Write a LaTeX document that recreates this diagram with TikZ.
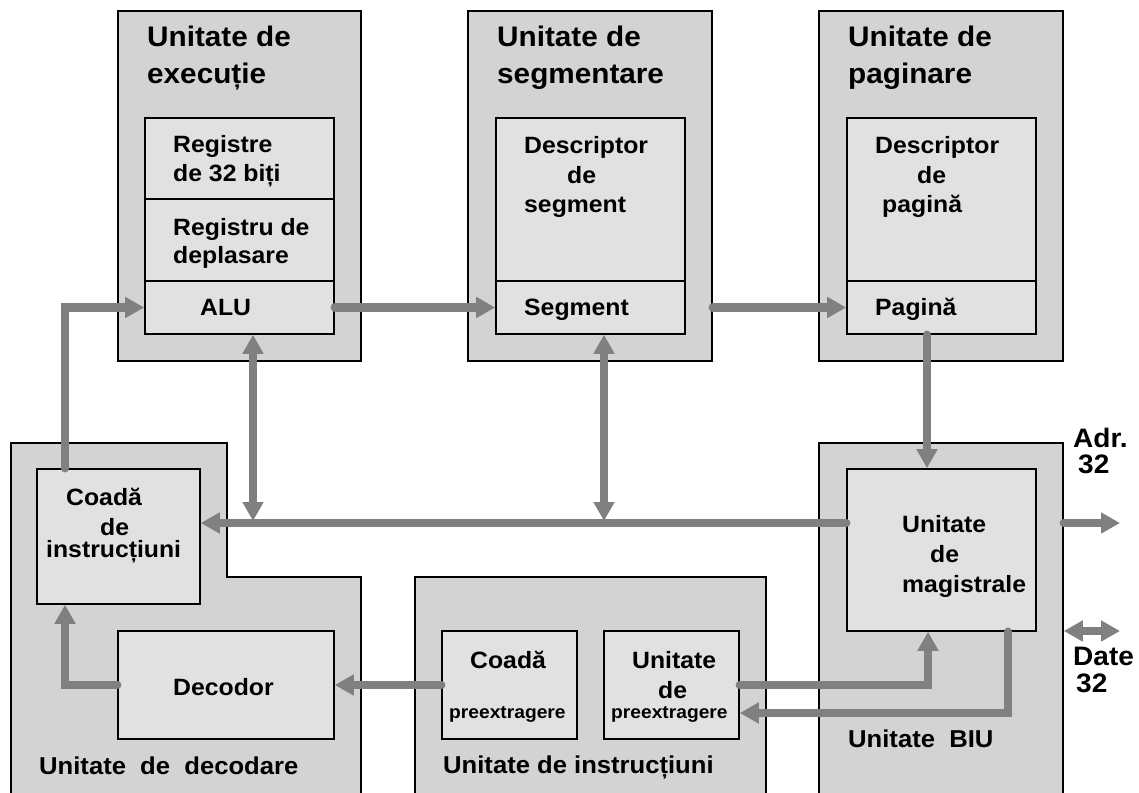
\documentclass[tikz,border=0pt]{standalone}
\usepackage{fontspec}
\setmainfont{Liberation Sans}[FakeStretch=1.05]
\usetikzlibrary{arrows.meta,fit}
\definecolor{outerfill}{RGB}{211,211,211}
\definecolor{innerfill}{RGB}{225,225,225}
\definecolor{busgray}{RGB}{128,128,128}
\begin{document}
\begin{tikzpicture}[x=1pt,y=-1pt,
  unitbox/.style={draw=black, line width=1.6pt, fill=outerfill, inner sep=0pt},
  cell/.style={draw=black, line width=1.6pt, fill=innerfill, inner sep=0pt},
  ttl/.style={anchor=base west, inner sep=0pt, font=\fontsize{28.3}{32}\selectfont\bfseries},
  txt/.style={anchor=base west, inner sep=0pt, font=\fontsize{23.6}{28}\selectfont\bfseries},
  sml/.style={anchor=base west, inner sep=0pt, font=\fontsize{18.3}{22}\selectfont\bfseries},
  lbl/.style={anchor=base west, inner sep=0pt, font=\fontsize{24.4}{28}\selectfont\bfseries},
  io/.style={anchor=base west, inner sep=0pt, font=\fontsize{26.7}{30}\selectfont\bfseries},
  bus/.style={draw=busgray, line width=8.5pt, line cap=round},
  arr/.style={bus, -{Triangle[length=19pt,width=20pt]}},
  darr/.style={bus, {Triangle[length=19pt,width=20pt]}-{Triangle[length=19pt,width=20pt]}}]
\useasboundingbox (0,0) rectangle (1139,792);
\clip (0,0) rectangle (1139,792);

% ---- outer units ----
\node[unitbox, fit={(118,11) (361,361)}] (exu) {};
\node[unitbox, fit={(468,11) (712,361)}] (segu) {};
\node[unitbox, fit={(819,11) (1063,361)}] (pagu) {};
\filldraw[line width=1.6pt, fill=outerfill]
  (11,800) -- (11,443) -- (227,443) -- (227,577) -- (361,577) -- (361,800) -- cycle;
\node[unitbox, fit={(415,577) (766,800)}] (insu) {};
\node[unitbox, fit={(819,443) (1063,800)}] (biu) {};

% ---- inner cells ----
\node[cell, fit={(145,118) (334,199)}] (reg) {};
\node[cell, fit={(145,199) (334,281)}] (rdep) {};
\node[cell, fit={(145,281) (334,334)}] (alu) {};
\node[cell, fit={(496,118) (685,281)}] (sdesc) {};
\node[cell, fit={(496,281) (685,334)}] (seg) {};
\node[cell, fit={(847,118) (1036,281)}] (pdesc) {};
\node[cell, fit={(847,281) (1036,334)}] (pag) {};
\node[cell, fit={(37,469) (200,604)}] (ciq) {};
\node[cell, fit={(118,631) (334,739)}] (dec) {};
\node[cell, fit={(442,631) (577,739)}] (cpx) {};
\node[cell, fit={(604,631) (739,739)}] (upx) {};
\node[cell, fit={(847,469) (1036,631)}] (mag) {};

% ---- texts ----
\node[ttl] (t1) at (147,47) {Unitate de};
\node[ttl] (t2) at (147,83) {execuție};
\node[ttl] (t3) at (497,47) {Unitate de};
\node[ttl] (t4) at (497,83) {segmentare};
\node[ttl] (t5) at (848,47) {Unitate de};
\node[ttl] (t6) at (848,83) {paginare};

\node[txt] (r1) at (173,152) {Registre};
\node[txt] (r2) at (173,181) {de 32 biți};
\node[txt] (r3) at (173,235) {Registru de};
\node[txt] (r4) at (173,263) {deplasare};
\node[txt] (r5) at (200,315) {ALU};

\node[txt] (s1) at (524,153) {Descriptor};
\node[txt] (s2) at (567,183) {de};
\node[txt] (s3) at (524,212) {segment};
\node[txt] (s4) at (524,315) {Segment};

\node[txt] (p1) at (875,153) {Descriptor};
\node[txt] (p2) at (917,183) {de};
\node[txt] (p3) at (882,212) {pagină};
\node[txt] (p4) at (875,315) {Pagină};

\node[txt] (c1) at (66,505) {Coadă};
\node[txt] (c2) at (100,535) {de};
\node[txt] (c3) at (46,557) {instrucțiuni};
\node[txt] (d1) at (173,695) {Decodor};
\node[lbl] (l1) at (39,774) {Unitate\ \ de\ \ decodare};

\node[txt] (q1) at (470,668) {Coadă};
\node[sml] (q2) at (449,718) {preextragere};
\node[txt] (u1) at (632,668) {Unitate};
\node[txt] (u2) at (658,698) {de};
\node[sml] (u3) at (611,718) {preextragere};
\node[lbl] (l2) at (443,773) {Unitate de instrucțiuni};

\node[txt] (m1) at (902,532) {Unitate};
\node[txt] (m2) at (930,562) {de};
\node[txt] (m3) at (902,592) {magistrale};
\node[lbl] (l3) at (848,747) {Unitate\ \ BIU};

\node[io] (a1) at (1073,447) {Adr.};
\node[io] (a2) at (1078,473) {32};
\node[io] (a3) at (1073,665) {Date};
\node[io] (a4) at (1076,692) {32};

% ---- bend points and free ends ----
\coordinate (xq) at (65,0);
\coordinate (ybus) at (0,523);
\coordinate (xa) at (253,521);
\coordinate (xs) at (604,521);
\coordinate (xp) at (927,0);
\coordinate (xm) at (928,0);
\coordinate (xr) at (1008,713);
\coordinate (adr) at (1120,523);
\coordinate (dat) at (1120,631);

% ---- connectors ----
\draw[arr] (ciq.north -| xq) |- (alu.west);
\draw[arr] (alu.east) -- (seg.west);
\draw[arr] (segu.east |- pag.west) -- (pag.west);
\draw[arr] (pag.south -| xp) -- (mag.north -| xp);
\draw[arr] (mag.west |- ybus) -- (ciq.east |- ybus);
\draw[darr] (alu.south -| xa) -- (xa);
\draw[darr] (seg.south -| xs) -- (xs);
\draw[arr] (cpx.west) -- (dec.east);
\draw[arr] (dec.west) -| (ciq.south -| xq);
\draw[arr] (upx.east) -| (mag.south -| xm);
\draw[arr] (mag.south -| xr) |- (upx.east |- xr);
\draw[arr] (biu.east |- ybus) -- (adr);
\draw[darr] (biu.east |- dat) -- (dat);
\end{tikzpicture}
\end{document}
